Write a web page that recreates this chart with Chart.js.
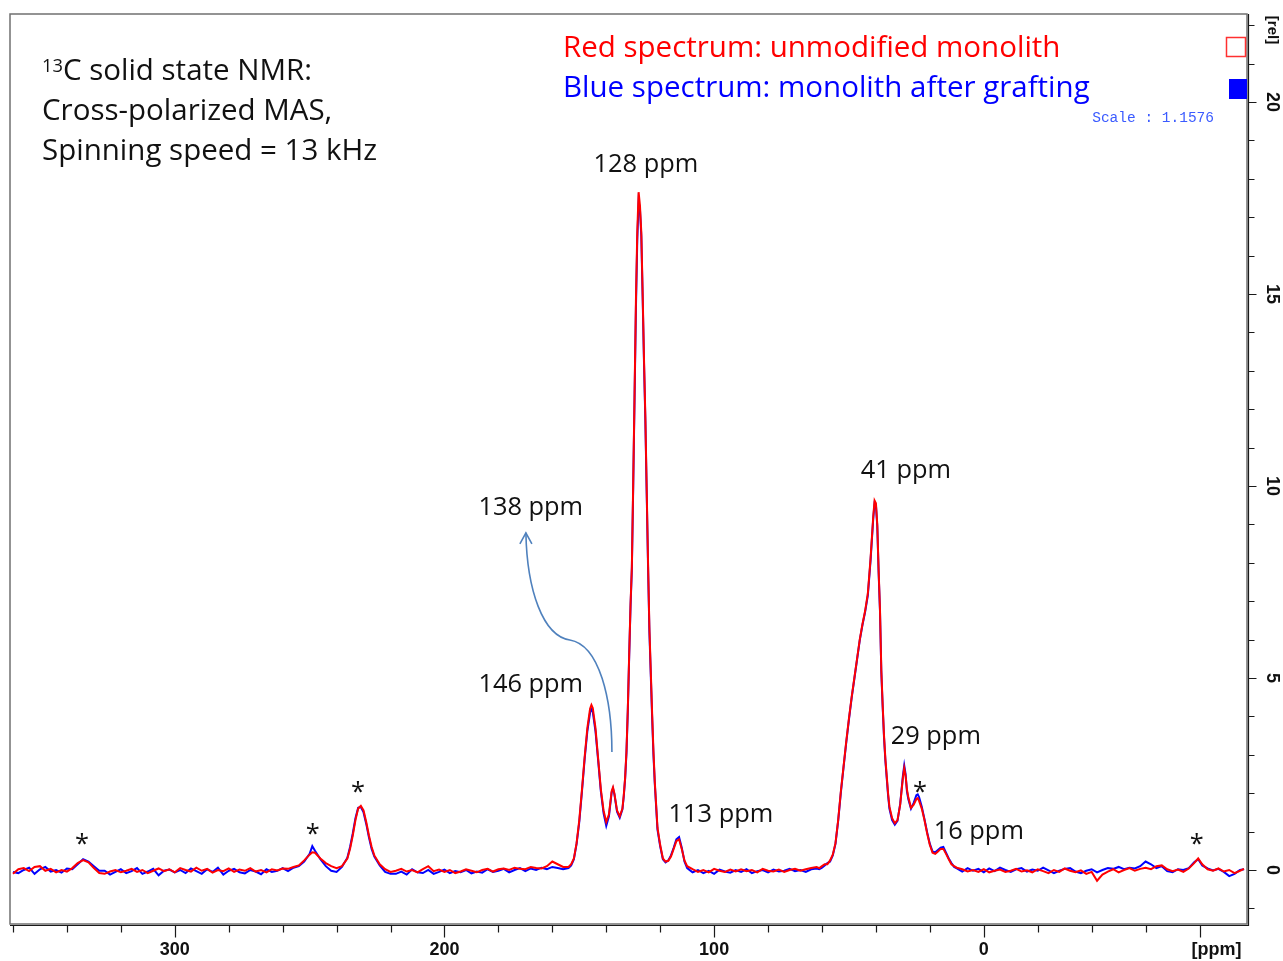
<!DOCTYPE html>
<html>
<head>
<meta charset="utf-8">
<title>13C CP-MAS NMR</title>
<script src="https://cdn.jsdelivr.net/npm/chart.js@4.4.1/dist/chart.umd.min.js"></script>
<style>
  html, body { margin: 0; padding: 0; background: #fff; }
  canvas { display: block; }
</style>
</head>
<body>
<canvas id="nmr" width="1283" height="961"></canvas>
<script>
// chemical shift (ppm); finer steps where peaks are
const ppm = [
  360, 358, 356, 354, 352, 350, 348, 346, 344, 342, 340,
  338, 336, 334, 332, 330, 328,
  326, 324, 322, 320, 318, 316, 314, 312, 310, 308,
  306, 304, 302, 300, 298, 296, 294, 292, 290, 288,
  286, 284, 282, 280, 278, 276, 274, 272, 270, 268,
  266, 264, 262, 260, 258, 256,
  254, 252, 250, 249, 248, 246, 244, 242, 240,
  238, 236, 235, 234, 233, 232, 231, 230, 229, 228, 227, 226, 224, 222, 220,
  218, 216, 214, 212, 210, 208, 206, 204, 202, 200,
  198, 196, 194, 192, 190, 188, 186, 184, 182, 180,
  178, 176, 174, 172, 170, 168, 166, 164, 162, 160,
  158, 156,
  154, 153, 152, 151, 150, 149, 148, 147, 146, 145.5,
  145, 144, 143, 142, 141, 140, 139, 138, 137.5, 137,
  136, 135, 134, 133.5, 133, 132.5, 132, 131.5, 131, 130.5,
  130, 129.5, 129, 128.5, 128, 127.5, 127, 126.5, 126, 125.5,
  125, 124.5, 124, 123.5, 123, 122.5, 122, 121.5, 121, 120,
  119, 118, 117, 116, 115, 114, 113, 112, 111, 110,
  108, 106, 104, 102, 100, 98, 96, 94, 92, 90,
  88, 86, 84, 82, 80, 78, 76, 74, 72, 70,
  68, 66, 64, 62,
  61, 60, 59, 58, 57, 56, 55, 54, 53, 52,
  51, 50, 49, 48, 47, 46, 45, 44, 43, 42,
  41, 40.5, 40, 39.5, 39, 38.5, 38, 37.5, 37, 36.5,
  36, 35.5, 35, 34, 33, 32, 31, 30, 29.5, 29,
  28.5, 28, 27, 26, 25, 24.5, 24, 23, 22, 21,
  20, 19, 18, 17, 16, 15, 14, 13, 12, 11,
  10,
  8, 6, 4, 2, 0, -2, -4, -6, -8, -10,
  -12, -14, -16, -18, -20, -22, -24, -26, -28, -30,
  -32, -34, -36, -38, -40, -42, -44, -46, -48, -50,
  -52, -54, -56, -58, -60, -62, -64, -66, -68, -70,
  -72, -74, -76, -78, -79.5, -81, -83, -85, -87, -89,
  -91, -93, -95, -96.5
];

// red: unmodified monolith
const redSpectrum = [
  -0.10, 0.02, 0.05, -0.03, 0.08, 0.10, -0.02, 0.03, -0.06, 0.00, -0.04,
  0.05, 0.18, 0.26, 0.20, 0.05, -0.08,
  -0.10, -0.04, 0.00, -0.06, -0.02, 0.03, -0.05, 0.00, -0.08, -0.02,
  0.04, -0.03, 0.02, -0.06, 0.05, 0.00, -0.04, 0.06, -0.02, 0.03,
  -0.07, 0.00, -0.03, 0.04, -0.05, 0.01, -0.02, 0.05, -0.04, 0.00,
  -0.06, 0.02, -0.01, 0.04, 0.03, 0.08,
  0.12, 0.25, 0.40, 0.46, 0.45, 0.30, 0.18, 0.10, 0.05,
  0.10, 0.30, 0.55, 0.90, 1.30, 1.60, 1.67, 1.55, 1.25, 0.90, 0.60, 0.38, 0.15, 0.02, -0.05,
  -0.02, 0.03, -0.04, 0.00, -0.06, 0.02, 0.10, -0.03, 0.01, -0.05,
  0.00, -0.08, -0.04, 0.02, -0.02, -0.06, 0.00, 0.03, -0.04, 0.02,
  0.04, 0.00, 0.06, 0.03, 0.02, 0.08, 0.05, 0.04, 0.10, 0.22,
  0.15, 0.08,
  0.08, 0.15, 0.30, 0.70, 1.30, 2.10, 2.95, 3.70, 4.20, 4.30,
  4.22, 3.70, 2.90, 2.10, 1.55, 1.25, 1.45, 2.05, 2.15, 2.00,
  1.55, 1.40, 1.60, 1.95, 2.40, 3.10, 4.20, 5.60, 6.90, 7.90,
  10.1, 12.4, 14.8, 16.6, 17.65, 17.3, 16.6, 15.0, 13.3, 11.8,
  9.9, 8.0, 6.3, 5.2, 4.1, 3.1, 2.3, 1.7, 1.1, 0.65,
  0.30, 0.22, 0.24, 0.35, 0.55, 0.75, 0.80, 0.55, 0.25, 0.10,
  0.02, -0.05, 0.00, -0.06, 0.03, -0.02, -0.05, 0.01, -0.04, 0.02,
  -0.03, 0.00, -0.06, 0.03, -0.02, -0.04, 0.01, -0.05, 0.00, 0.03,
  -0.02, 0.02, 0.05, 0.08,
  0.05, 0.10, 0.15, 0.15, 0.25, 0.40, 0.70, 1.30, 2.05, 2.70,
  3.35, 3.95, 4.50, 5.00, 5.50, 6.00, 6.40, 6.75, 7.20, 8.10,
  9.20, 9.62, 9.55, 9.00, 7.80, 6.80, 5.20, 4.30, 3.50, 2.90,
  2.45, 2.00, 1.65, 1.35, 1.22, 1.30, 1.70, 2.40, 2.65, 2.45,
  2.10, 1.90, 1.62, 1.70, 1.85, 1.87, 1.80, 1.60, 1.30, 0.95,
  0.65, 0.45, 0.42, 0.48, 0.55, 0.55, 0.42, 0.28, 0.15, 0.10,
  0.06,
  0.02, -0.04, 0.00, -0.05, 0.02, -0.06, -0.02, 0.01, -0.05, -0.02,
  0.03, -0.04, -0.01, -0.06, 0.02, -0.03, -0.08, 0.00, -0.05, 0.04,
  -0.02, -0.06, -0.01, -0.10, -0.05, -0.28, -0.12, -0.04, 0.02, -0.06,
  0.00, 0.05, -0.02, 0.03, 0.06, 0.02, 0.10, 0.12, 0.02, -0.03,
  0.01, -0.05, 0.04, 0.18, 0.30, 0.15, 0.02, -0.02, 0.04, -0.04,
  0.00, -0.08, -0.02, 0.03
];

// blue: monolith after grafting
const blueSpectrum = [
  -0.05, -0.08, 0.00, 0.06, -0.10, 0.02, 0.08, -0.04, 0.00, -0.07, 0.04,
  0.02, 0.15, 0.28, 0.22, 0.10, -0.02,
  -0.02, -0.12, -0.05, 0.02, -0.08, -0.03, 0.05, -0.10, -0.04, 0.03,
  -0.14, -0.02, 0.01, -0.06, 0.00, -0.08, 0.04, -0.03, -0.10, 0.02,
  -0.05, 0.06, -0.12, -0.02, 0.03, -0.06, -0.09, 0.00, -0.04, -0.11,
  0.02, -0.05, -0.02, 0.05, -0.03, 0.06,
  0.10, 0.22, 0.42, 0.62, 0.50, 0.28, 0.10, -0.02, -0.05,
  0.08, 0.32, 0.60, 0.95, 1.35, 1.62, 1.64, 1.50, 1.20, 0.85, 0.55, 0.35, 0.12, -0.05, -0.10,
  -0.10, -0.04, -0.12, 0.02, -0.06, -0.08, 0.00, -0.10, -0.05, 0.01,
  -0.08, -0.03, -0.06, 0.00, -0.09, -0.04, -0.07, 0.02, -0.05, -0.02,
  0.03, -0.06, 0.00, 0.05, -0.03, 0.04, 0.00, 0.06, 0.02, 0.08,
  0.05, 0.02,
  0.05, 0.12, 0.28, 0.68, 1.25, 2.05, 2.90, 3.62, 4.10, 4.18,
  4.12, 3.62, 2.85, 2.05, 1.48, 1.15, 1.40, 2.02, 2.12, 1.98,
  1.52, 1.36, 1.58, 1.92, 2.38, 3.05, 4.15, 5.55, 6.85, 7.85,
  10.0, 12.3, 14.6, 16.4, 17.4, 17.2, 16.5, 14.9, 13.2, 11.7,
  9.8, 7.9, 6.2, 5.1, 4.0, 3.0, 2.25, 1.65, 1.05, 0.62,
  0.28, 0.20, 0.25, 0.38, 0.58, 0.80, 0.86, 0.58, 0.22, 0.05,
  -0.06, 0.00, -0.08, -0.02, -0.10, 0.01, -0.04, -0.07, 0.00, -0.05,
  0.02, -0.08, -0.03, 0.00, -0.06, 0.01, -0.04, -0.02, 0.03, -0.03,
  0.00, -0.05, 0.02, 0.04,
  0.02, 0.06, 0.12, 0.18, 0.22, 0.38, 0.68, 1.28, 2.02, 2.68,
  3.32, 3.92, 4.48, 4.98, 5.48, 5.98, 6.38, 6.72, 7.15, 8.05,
  9.15, 9.55, 9.50, 8.95, 7.75, 6.75, 5.15, 4.25, 3.45, 2.85,
  2.40, 1.95, 1.60, 1.30, 1.18, 1.28, 1.72, 2.45, 2.72, 2.50,
  2.05, 1.85, 1.60, 1.75, 1.95, 1.97, 1.90, 1.65, 1.32, 0.98,
  0.68, 0.48, 0.46, 0.52, 0.58, 0.60, 0.45, 0.30, 0.18, 0.08,
  0.04,
  -0.04, 0.05, -0.02, 0.03, -0.06, 0.04, -0.03, 0.06, 0.00, -0.05,
  0.02, 0.05, -0.04, 0.01, -0.02, 0.06, -0.01, -0.08, -0.02, 0.03,
  0.05, -0.04, -0.08, -0.02, 0.02, -0.06, 0.00, 0.05, 0.03, 0.08,
  0.02, 0.06, 0.04, 0.10, 0.22, 0.15, 0.05, 0.10, -0.03, -0.06,
  0.02, 0.00, 0.05, 0.20, 0.28, 0.12, 0.04, -0.01, 0.03, -0.05,
  -0.16, -0.10, 0.00, 0.02
];

// axis ticks
const xTicks = [360, 340, 320, 300, 280, 260, 240, 220, 200, 180, 160, 140, 120, 100, 80, 60, 40, 20, 0, -20, -40, -60, -80];
const xLabelValues = [300, 200, 100, 0, -80];
const xLabelTexts = ['300', '200', '100', '0', '[ppm]'];
const yTicks = [-1, 0, 1, 2, 3, 4, 5, 6, 7, 8, 9, 10, 11, 12, 13, 14, 15, 16, 17, 18, 19, 20, 21, 22];
const yLabelValues = [0, 5, 10, 15, 20];

// peak labels: [text, ppm, intensity at text baseline]
const peakLabels = [
  ['128 ppm', 125.3, 18.18],
  ['138 ppm', 168.0, 9.24],
  ['146 ppm', 168.0, 4.64],
  ['113 ppm', 97.5, 1.25],
  ['41 ppm', 28.9, 10.21],
  ['29 ppm', 17.8, 3.28],
  ['16 ppm', 1.85, 0.81]
];
// spinning sidebands (*): [ppm, intensity at mark centre]
const sidebands = [[334.4, 0.83], [248.8, 1.09], [232.1, 2.19], [23.7, 2.19], [-79.0, 0.83]];

const FONT = '"Open Sans", "Noto Sans", sans-serif';
const AXIS_FONT = 'bold 18px "Liberation Sans", Arial, sans-serif';

// white background + frame, ticks and tick labels
const framePlugin = {
    id: 'frame',
    beforeDraw(chart) {
        const ctx = chart.ctx;
        ctx.save();
        ctx.fillStyle = '#fff';
        ctx.fillRect(0, 0, chart.width, chart.height);
        ctx.restore();
    },
    afterDraw(chart) {
        const { ctx, chartArea: a, scales: { x, y } } = chart;
        ctx.save();
        ctx.strokeStyle = '#707070';
        ctx.lineWidth = 1.5;
        ctx.strokeRect(a.left, a.top, a.right - a.left, a.bottom - a.top);

        ctx.strokeStyle = '#1a1a1a';
        ctx.lineWidth = 1.2;
        ctx.beginPath();
        ctx.moveTo(a.left, a.bottom + 1.5);
        ctx.lineTo(a.right + 1.5, a.bottom + 1.5);
        ctx.lineTo(a.right + 1.5, a.top);
        xTicks.forEach(v => {
            const px = Math.round(x.getPixelForValue(v)) + 0.5;
            const len = xLabelValues.includes(v) ? 12 : 7;
            ctx.moveTo(px, a.bottom + 1.5);
            ctx.lineTo(px, a.bottom + 1.5 + len);
        });
        yTicks.forEach(v => {
            const py = Math.round(y.getPixelForValue(v)) + 0.5;
            const len = yLabelValues.includes(v) ? 8 : 6;
            ctx.moveTo(a.right + 1.5, py);
            ctx.lineTo(a.right + 1.5 + len, py);
        });
        ctx.stroke();

        ctx.fillStyle = '#111';
        ctx.font = AXIS_FONT;
        ctx.textBaseline = 'middle';
        xLabelValues.forEach((v, i) => {
            const px = x.getPixelForValue(v);
            if (xLabelTexts[i].startsWith('[')) {
                ctx.textAlign = 'left';
                ctx.fillText(xLabelTexts[i], px - 8, a.bottom + 26);
            } else {
                ctx.textAlign = 'center';
                ctx.fillText(xLabelTexts[i], px, a.bottom + 26);
            }
        });
        ctx.textAlign = 'center';
        const yLab = (txt, py) => {
            ctx.save();
            ctx.translate(a.right + 25, py);
            ctx.rotate(Math.PI / 2);
            ctx.fillText(txt, 0, 0);
            ctx.restore();
        };
        yLabelValues.forEach(v => yLab(String(v), y.getPixelForValue(v)));
        ctx.font = 'bold 15px "Liberation Sans", Arial, sans-serif';
        yLab('[rel]', a.top + 16);

        if (ppm.length !== redSpectrum.length || ppm.length !== blueSpectrum.length) {
            ctx.fillStyle = 'magenta';
            ctx.fillText('LEN ' + ppm.length + ' ' + redSpectrum.length + ' ' + blueSpectrum.length, 640, 400);
        }
        ctx.restore();
    }
};

// texts, legend, peak labels, arrow
const notesPlugin = {
    id: 'notes',
    afterDraw(chart) {
        const { ctx, scales: { x, y } } = chart;
        ctx.save();
        // font size fitted to the width of the blue legend line
        const legendBlue = 'Blue spectrum: monolith after grafting';
        ctx.font = '100px ' + FONT;
        const size = 100 * 527 / ctx.measureText(legendBlue).width;
        const f = s => s.toFixed(1) + 'px ' + FONT;

        ctx.textBaseline = 'alphabetic';
        ctx.textAlign = 'left';
        ctx.fillStyle = '#ff0000';
        ctx.font = f(size);
        ctx.fillText('Red spectrum: unmodified monolith', 563, 57);
        ctx.fillStyle = '#0000ff';
        ctx.fillText(legendBlue, 563, 97);

        // measurement info block
        ctx.fillStyle = '#111';
        ctx.font = f(size * 0.62);
        ctx.fillText('13', 42, 72);
        const supW = ctx.measureText('13').width;
        ctx.font = f(size);
        ctx.fillText('C solid state NMR:', 42 + supW, 80);
        ctx.fillText('Cross-polarized MAS,', 42, 120);
        ctx.fillText('Spinning speed = 13 kHz', 42, 160);

        // scale note and legend boxes
        ctx.font = '14.5px "Liberation Mono", "DejaVu Sans Mono", monospace';
        ctx.textAlign = 'right';
        ctx.fillStyle = '#3b5bff';
        ctx.fillText('Scale : 1.1576', 1214, 122);
        ctx.strokeStyle = '#ff3030';
        ctx.lineWidth = 1.5;
        ctx.strokeRect(1226.5, 37.5, 19, 19);
        ctx.fillStyle = '#0000ff';
        ctx.fillRect(1229, 79, 18, 20);

        // peak labels
        const peakSize = size * 0.86;
        ctx.fillStyle = '#111';
        ctx.font = f(peakSize);
        ctx.textAlign = 'center';
        peakLabels.forEach(([t, p, v]) => {
            ctx.fillText(t, x.getPixelForValue(p), y.getPixelForValue(v));
        });
        sidebands.forEach(([p, v]) => {
            ctx.fillText('*', x.getPixelForValue(p), y.getPixelForValue(v) + peakSize * 0.55);
        });

        // curved arrow 146 -> 138 ppm
        const P = (p, v) => [x.getPixelForValue(p), y.getPixelForValue(v)];
        const s0 = P(137.9, 3.07), c1 = P(137.9, 4.43), c2 = P(142.4, 5.86), m = P(153.5, 5.99);
        const c3 = P(163.5, 6.09), c4 = P(169.4, 7.29), e = P(169.8, 8.78);
        ctx.strokeStyle = '#4f81bd';
        ctx.lineWidth = 1.6;
        ctx.beginPath();
        ctx.moveTo(...s0);
        ctx.bezierCurveTo(...c1, ...c2, ...m);
        ctx.bezierCurveTo(...c3, ...c4, ...e);
        ctx.stroke();
        ctx.beginPath();
        ctx.moveTo(e[0] - 6, e[1] + 11);
        ctx.lineTo(e[0], e[1]);
        ctx.lineTo(e[0] + 6, e[1] + 11);
        ctx.stroke();
        ctx.restore();
    }
};

new Chart(document.getElementById('nmr'), {
    type: 'scatter',
    data: {
        datasets: [
            {
                label: 'Red spectrum: unmodified monolith',
                data: ppm.map((p, i) => ({ x: p, y: redSpectrum[i] })),
                showLine: true,
                borderColor: '#ff0000',
                borderWidth: 2,
                pointRadius: 0,
                tension: 0
            },
            {
                label: 'Blue spectrum: monolith after grafting',
                data: ppm.map((p, i) => ({ x: p, y: blueSpectrum[i] })),
                showLine: true,
                borderColor: '#0000ff',
                borderWidth: 2,
                pointRadius: 0,
                tension: 0
            }
        ]
    },
    options: {
        responsive: false,
        animation: false,
        layout: { padding: { left: 10, top: 14, right: 0, bottom: 0 } },
        plugins: { legend: { display: false }, tooltip: { enabled: false } },
        scales: {
            x: {
                type: 'linear',
                reverse: true,
                min: -97.6,
                max: 361.1,
                grid: { display: false },
                border: { display: false },
                ticks: { display: false },
                afterFit: s => { s.height = 37; }
            },
            y: {
                type: 'linear',
                position: 'right',
                min: -1.406,
                max: 22.29,
                grid: { display: false },
                border: { display: false },
                ticks: { display: false },
                afterFit: s => { s.width = 36; }
            }
        }
    },
    plugins: [framePlugin, notesPlugin]
});
</script>
</body>
</html>
